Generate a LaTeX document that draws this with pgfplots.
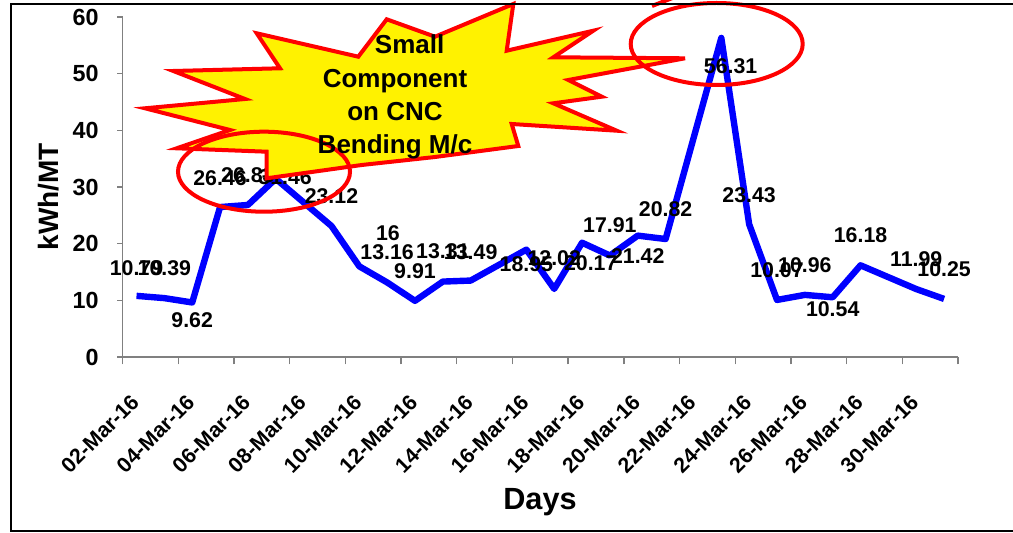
\documentclass[border=0pt]{standalone}
\usepackage{fontspec}
\setmainfont{Liberation Sans}
\usepackage{pgfplots}
\pgfplotsset{compat=1.18}
\usepackage{pgfplotstable}

% day of March 2016, kWh/MT, label shift (pt)
\pgfplotstableread{
day val dx dy
2 10.79 0 21
3 10.39 0 22.5
4 9.62 0 -13.5
5 26.46 0 22
6 26.83 0 22
7 31.46 7 1
9 23.12 0 22.5
10 16 21.5 25
11 13.16 0 22.5
12 9.91 0 22.5
13 13.31 0 22.5
14 13.49 0 21
16 18.95 0 -11
17 12.02 0 23
18 20.17 6.5 -15
19 17.91 0 23
20 21.42 0 -15
21 20.82 0 22.5
23 56.31 7 -21
24 23.43 0 22
25 10.07 0 22
26 10.96 0 22
27 10.54 0 -9
28 16.18 0 22.5
30 11.99 0 22.5
31 10.25 0 22.5
}\kwhdata

\begin{document}
\begin{tikzpicture}
\useasboundingbox (0,0) rectangle (759.75pt,399pt);
\begin{axis}[
    at={(91.95pt,131.25pt)}, anchor=south west,
    scale only axis, width=626.55pt, height=255pt,
    xmin=1.5, xmax=31.5, ymin=0, ymax=60,
    clip=false,
    axis lines*=left,
    axis line style={draw=gray, line width=1pt},
    tick align=outside,
    major tick length=4pt,
    minor tick length=5.5pt,
    xtick={2,4,...,30},
    xticklabels={02-Mar-16,04-Mar-16,06-Mar-16,08-Mar-16,10-Mar-16,12-Mar-16,14-Mar-16,16-Mar-16,18-Mar-16,20-Mar-16,22-Mar-16,24-Mar-16,26-Mar-16,28-Mar-16,30-Mar-16},
    major x tick style={draw=none},
    minor xtick={1.5,3.5,...,31.5},
    minor x tick style={draw=gray, line width=1pt},
    ytick={0,10,...,60},
    major y tick style={draw=gray, line width=1pt},
    /pgf/number format/assume math mode=true,
    yticklabel style={font=\fontsize{17.5}{17.5}\selectfont\bfseries, xshift=-10.5pt},
    xticklabel style={font=\fontsize{16}{16}\selectfont\bfseries,
        xshift=-1pt, yshift=-27pt, rotate=45, anchor=east, inner sep=0pt},
]
\addplot[blue, line width=4.8pt, line join=round,
    nodes near coords, point meta=explicit symbolic,
    visualization depends on={\thisrow{dx}\as\dx},
    visualization depends on={\thisrow{dy}\as\dy},
    every node near coord/.append style={anchor=center, inner sep=0pt,
        black, font=\fontsize{16}{16}\selectfont\bfseries,
        xshift=\dx pt, yshift=\dy pt}]
    table[x=day, y=val, meta=val] {\kwhdata};
\end{axis}

\begin{scope}[x=0.75pt, y=-0.75pt, shift={(0pt,399pt)}]
\draw[red, line width=3pt, fill=yellow]
    (256.7,33.3) -- (358.3,56.7) -- (386.7,19.3) -- (435,36.7) -- (513.3,4)
    -- (506.7,50.7) -- (593.3,30.7) -- (553.3,57.3) -- (685,58.3) -- (568.3,80)
    -- (601.7,96.7) -- (553.3,103.3) -- (616.7,130.7) -- (511.7,124) -- (518.3,146)
    -- (435,157) -- (361.7,165) -- (266.7,178.3) -- (266.7,151.7) -- (176.7,148.3)
    -- (230,130) -- (145,108.3) -- (245,99) -- (173.3,71) -- (280,68.3) -- cycle;
\draw[red, line width=3pt] (264,171.7) ellipse [x radius=86, y radius=40];
\draw[red, line width=3pt] (716.7,44) ellipse [x radius=86, y radius=41];
\draw[red, line width=3pt] (652,6) -- (675,-3);
\node[font=\fontsize{19.5}{25}\selectfont\bfseries, align=center]
    at (395,97.3) {\hspace*{22pt}Small\\Component\\on CNC\\Bending M/c};
\node[font=\fontsize{23}{23}\selectfont\bfseries, anchor=base] at (540,509.5) {Days};
\node[font=\fontsize{21}{21}\selectfont\bfseries, rotate=90, anchor=base] at (58.3,196.7) {kWh/MT};
\draw[black, line width=1.1pt] (11,4) rectangle (1020,531);
\end{scope}
\end{tikzpicture}
\end{document}
